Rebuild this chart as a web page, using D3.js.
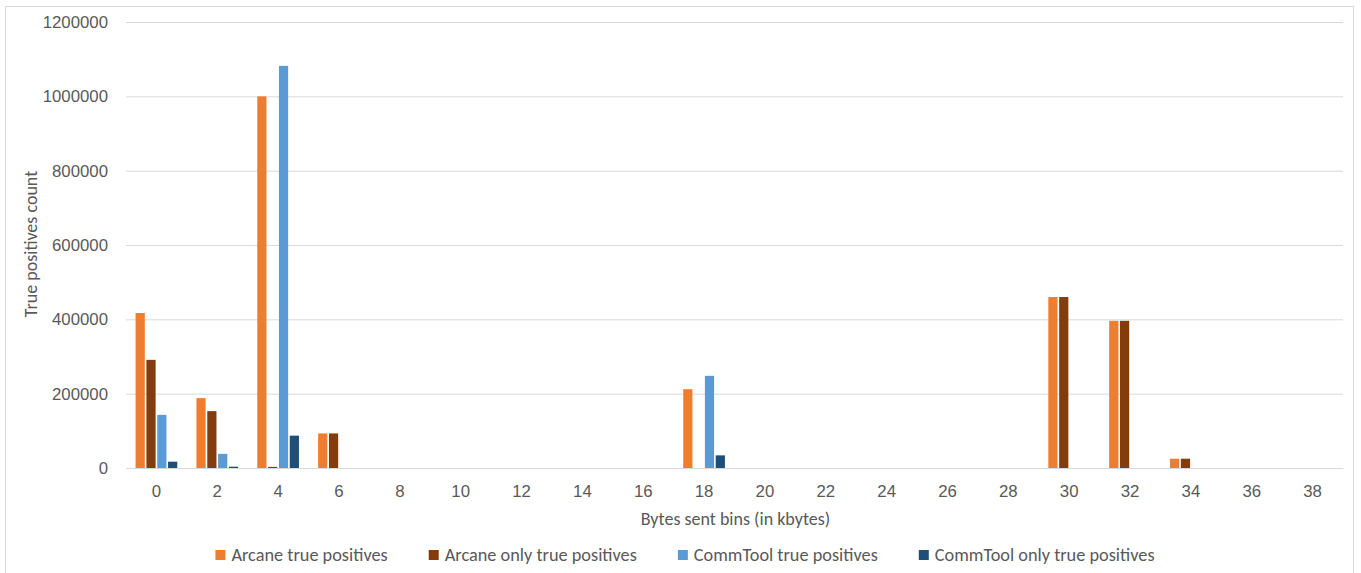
<!DOCTYPE html>
<html>
<head>
<meta charset="utf-8">
<script src="https://cdn.jsdelivr.net/npm/d3@7"></script>
<style>
  html, body { margin: 0; padding: 0; background: #fff; }
  svg { display: block; font-family: Carlito, Calibri, "Liberation Sans", Arial, sans-serif; }
</style>
</head>
<body>
<svg id="chart" width="1361" height="573"></svg>
<script>
// ---- data ----
const categories = ["0","2","4","6","8","10","12","14","16","18","20","22","24","26","28","30","32","34","36","38"];
const seriesNames = ["Arcane true positives", "Arcane only true positives", "CommTool true positives", "CommTool only true positives"];
const arcaneTP     = [417000, 188000, 1000000, 93000, 0, 0, 0, 0, 0, 212000, 0, 0, 0, 0, 0, 460000, 396000, 25000, 0, 0];
const arcaneOnlyTP = [291000, 153000, 3000,    93000, 0, 0, 0, 0, 0, 0,      0, 0, 0, 0, 0, 460000, 396000, 25000, 0, 0];
const commToolTP   = [143000, 38000, 1082000,  0,     0, 0, 0, 0, 0, 248000, 0, 0, 0, 0, 0, 0,      0,      0,     0, 0];
const commToolOnly = [17000,  3500,  87000,    0,     0, 0, 0, 0, 0, 34000,  0, 0, 0, 0, 0, 0,      0,      0,     0, 0];
const yTicks = [0, 200000, 400000, 600000, 800000, 1000000, 1200000];
const colors = ["#ED7D31", "#843C0C", "#5B9BD5", "#1F4E79"];
const xTitle = "Bytes sent bins (in kbytes)";
const yTitle = "True positives count";

const seriesValues = [arcaneTP, arcaneOnlyTP, commToolTP, commToolOnly];

(function () {
// ---- layout ----
const svg = d3.select("#chart");
const pLeft = 126, pRight = 1343, pTop = 22, pBottom = 468;
const textColor = "#595959";
const tickFs = 16.8, titleFs = 18, legendFs = 18.3;

// chart border
svg.append("rect").attr("x", 5.5).attr("y", 6.5).attr("width", 1348).attr("height", 580)
  .attr("fill", "#fff").attr("stroke", "#d9d9d9").attr("stroke-width", 1);

const x = d3.scaleBand().domain(categories).range([pLeft, pRight]).paddingInner(0.315).paddingOuter(0.1575);
const xs = d3.scaleBand().domain(d3.range(seriesValues.length)).range([0, x.bandwidth()]).paddingInner(0.15);
const y = d3.scaleLinear().domain([0, 1200000]).range([pBottom, pTop]);

// gridlines + y labels
const yAxis = d3.axisLeft(y).tickValues(yTicks).tickSize(-(pRight - pLeft)).tickPadding(18).tickFormat(d => String(d));
const gy = svg.append("g").attr("transform", `translate(${pLeft},0)`).call(yAxis);
gy.select(".domain").remove();
gy.selectAll(".tick line").attr("stroke", "#d9d9d9").attr("stroke-width", 1);
gy.selectAll(".tick text").attr("fill", textColor).style("font-size", tickFs + "px").attr("x", -18);

// bars
const rows = categories.map((c, i) => ({ c, vals: seriesValues.map((s, k) => ({ k, v: s[i] })) }));
const groups = svg.append("g").selectAll("g").data(rows).join("g")
  .attr("transform", d => `translate(${x(d.c)},0)`);
groups.selectAll("rect").data(d => d.vals.filter(e => e.v > 0)).join("rect")
  .attr("x", d => xs(d.k))
  .attr("width", xs.bandwidth())
  .attr("y", d => y(d.v))
  .attr("height", d => y(0) - y(d.v))
  .attr("fill", d => colors[d.k]);

// x axis
const xAxis = d3.axisBottom(x).tickSize(0).tickPadding(17);
const gx = svg.append("g").attr("transform", `translate(0,${pBottom})`).call(xAxis);
gx.select(".domain").attr("stroke", "#d9d9d9").attr("stroke-width", 1.2);
gx.selectAll(".tick text").attr("fill", textColor).style("font-size", tickFs + "px");

// axis titles
svg.append("text").attr("x", (pLeft + pRight) / 2 + 1).attr("y", 525)
  .attr("text-anchor", "middle").attr("fill", textColor).style("font-size", titleFs + "px").text(xTitle);
svg.append("text").attr("transform", `translate(37,244) rotate(-90)`)
  .attr("text-anchor", "middle").attr("fill", textColor).style("font-size", titleFs + "px").text(yTitle);

// legend
const legend = svg.append("g");
const items = legend.selectAll("g").data(seriesNames).join("g");
items.append("rect").attr("width", 10).attr("height", 10).attr("y", -5).attr("fill", (d, i) => colors[i]);
items.append("text").attr("x", 16).attr("dy", "0.35em").attr("fill", textColor).style("font-size", legendFs + "px").text(d => d);
const gap = 41;
let pos = 0; const offs = [];
items.each(function () {
  offs.push(pos);
  const w = d3.select(this).select("text").node().getComputedTextLength();
  pos += 16 + w + gap;
});
const total = pos - gap;
const startX = 685 - total / 2;
items.attr("transform", (d, i) => `translate(${startX + offs[i]},555)`);
})();
</script>
</body>
</html>
